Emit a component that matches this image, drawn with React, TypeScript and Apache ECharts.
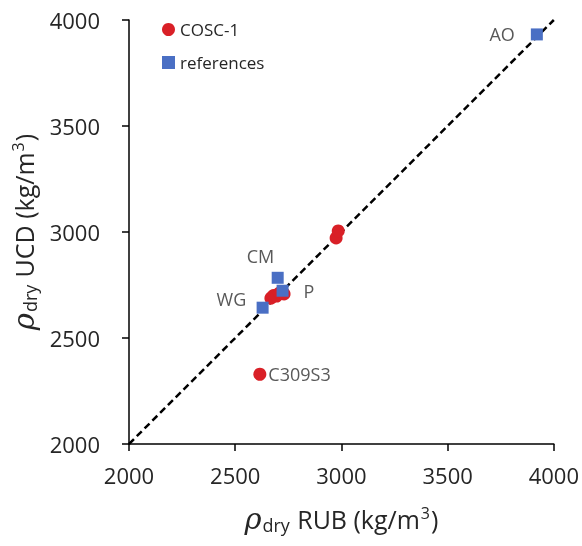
import React, { useEffect, useRef } from "react";
import * as echarts from "echarts";

const xTicks = [2000, 2500, 3000, 3500, 4000];
const cosc1X = [2616, 2668, 2680, 2695, 2708, 2730, 2975, 2985];
const cosc1Y = [2329, 2688, 2700, 2698, 2712, 2708, 2972, 3005];
const cosc1Labels = ["C309S3", "", "", "", "", "", "", ""];
const refNames = ["AO", "CM", "P", "WG"];
const refX = [3920, 2700, 2723, 2629];
const refY = [3932, 2784, 2723, 2643];
const oneToOneX = [2000, 4000];
const oneToOneY = [2000, 4000];

const refLabelPos: any[] = ["left", [-25, -25], "right", [-40, -12]];
const refLabelDist = [16, 0, 15, 0];

export default function App() {
  const ref = useRef<HTMLDivElement>(null);
  useEffect(() => {
    if (!ref.current) return;
    const chart = echarts.init(ref.current, undefined, { renderer: "svg" });
    const font = "'Open Sans', 'Liberation Sans', sans-serif";
    const rich = {
      rho: { fontFamily: "'DejaVu Serif', serif", fontStyle: "italic", fontSize: 29, color: "#262626" },
      sub: { fontFamily: font, fontSize: 18, color: "#262626", padding: [12, 4, 0, 1] },
      t: { fontFamily: font, fontSize: 25, color: "#262626" },
      sup: { fontFamily: font, fontSize: 16, color: "#262626", padding: [0, 1, 12, 1] },
    };
    const axisCommon = {
      type: "value",
      min: 2000,
      max: 4000,
      interval: 500,
      splitLine: { show: false },
      axisLine: { show: true, onZero: false, lineStyle: { color: "#000", width: 1.5 } },
      axisTick: { show: true, length: 7, lineStyle: { color: "#000", width: 1.5 } },
      nameLocation: "middle",
    };
    chart.setOption({
      animation: false,
      grid: { left: 129, right: 28, top: 20, bottom: 102, containLabel: false },
      legend: {
        orient: "vertical",
        left: 157,
        top: 16,
        itemGap: 16,
        itemWidth: 13,
        itemHeight: 13,
        textStyle: { fontFamily: font, fontSize: 17, color: "#262626" },
        data: [
          { name: "COSC-1", icon: "circle" },
          { name: "references", icon: "rect" },
        ],
      },
      xAxis: {
        ...axisCommon,
        name: "{rho|ρ}{sub|dry} {t|RUB (kg/m}{sup|3}{t|)}",
        nameGap: 60,
        nameTextStyle: { rich },
        axisLabel: {
          fontFamily: font,
          fontSize: 22,
          color: "#262626",
          margin: 20,
          formatter: (v: number) => String(v),
        },
      },
      yAxis: {
        ...axisCommon,
        name: "{rho|ρ}{sub|dry} {t|UCD (kg/m}{sup|3}{t|)}",
        nameGap: 80,
        nameTextStyle: { rich },
        axisLabel: {
          fontFamily: font,
          fontSize: 22,
          color: "#262626",
          margin: 29,
          formatter: (v: number) => String(v),
        },
      },
      series: [
        {
          type: "line",
          data: oneToOneX.map((x, i) => [x, oneToOneY[i]]),
          showSymbol: false,
          symbol: "none",
          lineStyle: { color: "#000", width: 2.5, type: [7, 4] },
          silent: true,
          z: 1,
        },
        {
          name: "COSC-1",
          type: "scatter",
          symbol: "circle",
          symbolSize: 13,
          itemStyle: { color: "#d92027", opacity: 1 },
          data: cosc1X.map((x, i) => ({
            value: [x, cosc1Y[i]],
            label: {
              show: cosc1Labels[i] !== "",
              formatter: cosc1Labels[i],
              position: "right",
              distance: 2,
              fontFamily: font,
              fontSize: 18,
              color: "#595959",
            },
          })),
          z: 3,
        },
        {
          name: "references",
          type: "scatter",
          symbol: "rect",
          symbolSize: 12,
          itemStyle: { color: "#4a6fc4", opacity: 1 },
          data: refX.map((x, i) => ({
            value: [x, refY[i]],
            label: {
              show: true,
              formatter: refNames[i],
              position: refLabelPos[i],
              distance: refLabelDist[i],
              fontFamily: font,
              fontSize: 18,
              color: "#595959",
            },
          })),
          z: 4,
        },
      ],
    });
    return () => chart.dispose();
  }, []);
  return (
    <div
      ref={ref}
      style={{ position: "fixed", left: 0, top: 0, width: 582, height: 546 }}
    />
  );
}
